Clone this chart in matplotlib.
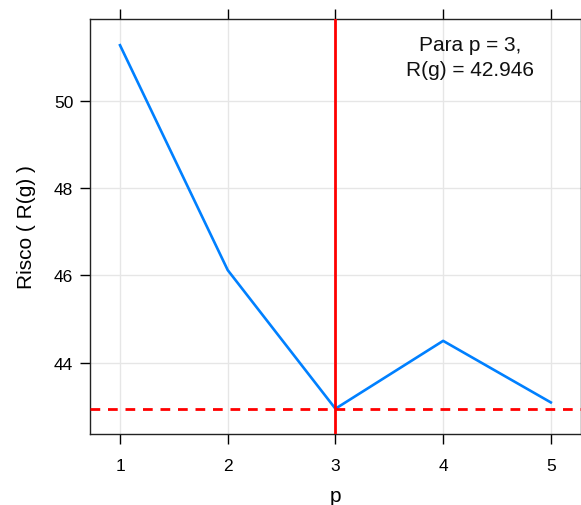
import matplotlib
matplotlib.use("Agg")
import matplotlib.pyplot as plt

# Risco estimado para cada numero de preditores p
p = [1, 2, 3, 4, 5]
risco = [51.27, 46.12, 42.946, 44.50, 43.09]
p_best = 3
risco_best = 42.946

plt.rcParams['font.family'] = ['Liberation Sans', 'DejaVu Sans']

fig = plt.figure(figsize=(5.81, 5.06), dpi=100)
ax = fig.add_axes([90 / 581, 1 - 435 / 506, 491 / 581, 415 / 506])

ax.set_xlim(0.7214, 5.28)
ax.set_ylim(42.367, 51.87)

ax.set_xticks(p)
ax.set_yticks([44, 46, 48, 50])
ax.grid(True, color='#e6e6e6', linewidth=1)
ax.set_axisbelow(True)

ax.plot(p, risco, color='#0080ff', linewidth=1.9, zorder=3)
ax.axvline(p_best, color='red', linewidth=2.0, zorder=4)
ax.axhline(risco_best, color='red', linewidth=2.0, linestyle=(0, (3.5, 2.8)), zorder=4)

ax.text(4.25, 51.0, f"Para p = {p_best},\nR(g) = {risco_best}", ha='center', va='center',
        fontsize=15, linespacing=1.45, color='#111111')

ax.tick_params(axis='x', direction='out', length=7, width=1, top=True, labeltop=False,
               labelsize=12.5, pad=10)
ax.tick_params(axis='y', direction='out', length=7, width=1, right=False,
               labelsize=12.5, pad=5)
for s in ax.spines.values():
    s.set_linewidth(1)
    s.set_color('#222222')

ax.set_xlabel('p', fontsize=15, labelpad=10)
ax.set_ylabel('Risco ( R(g) )', fontsize=15, labelpad=13)

fig.savefig('out.png', dpi=100)
